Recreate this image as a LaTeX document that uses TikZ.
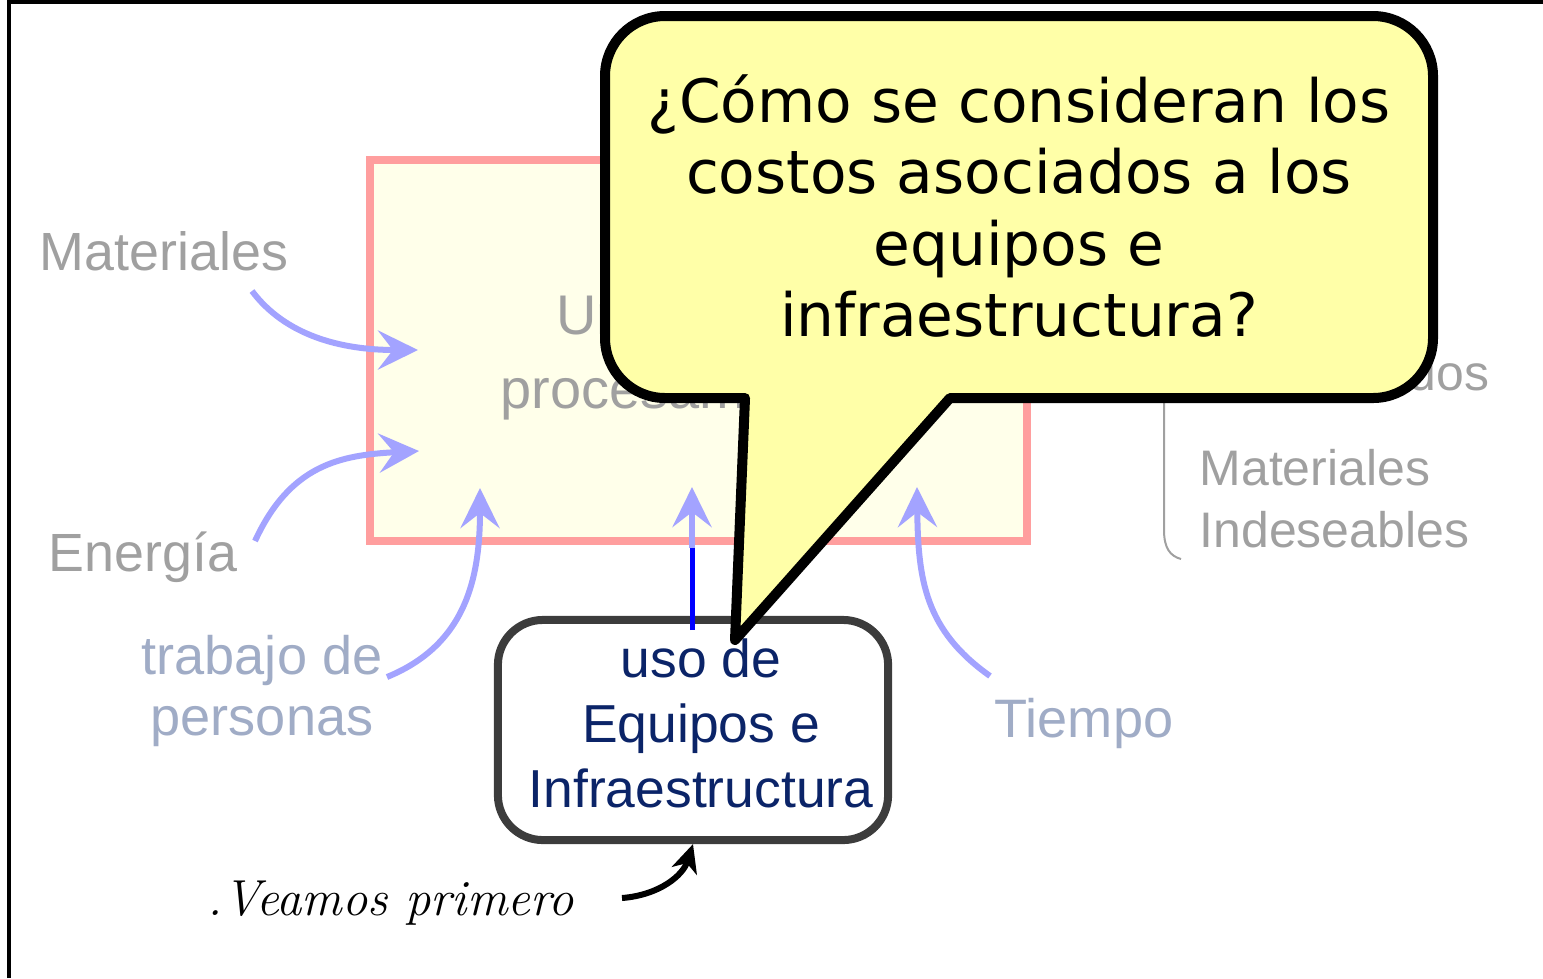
\documentclass[tikz,border=0pt]{standalone}
\usepackage{fontspec}
\newfontfamily\arialfont{Liberation Sans}
\newfontfamily\bubblefont{DejaVu Sans}
\usetikzlibrary{arrows.meta}

\definecolor{pinkline}{HTML}{FF9E9E}
\definecolor{boxfill}{HTML}{FFFFEA}
\definecolor{flowblue}{HTML}{A3A3FF}
\definecolor{labelgray}{HTML}{A0A0A0}
\definecolor{labelslate}{HTML}{A0ACC6}
\definecolor{navy}{HTML}{0B2468}
\definecolor{darkframe}{HTML}{3C3C3C}
\definecolor{bubblefill}{HTML}{FFFFA8}

\begin{document}
\begin{tikzpicture}[x=0.01cm, y=-0.01cm,
        flow/.style={draw=flowblue, line width=0.06cm, -{Stealth[length=0.4cm, width=0.39cm, inset=0.15cm]}},
        inlabel/.style={text=labelgray, inner sep=0pt, font=\arialfont\fontsize{15.3}{17.1}\selectfont},
        slatelabel/.style={text=labelslate, inner sep=0pt, align=center, font=\arialfont\fontsize{15.4}{17.1}\selectfont},
        outlabel/.style={text=labelgray, inner sep=0pt, align=left, font=\arialfont\fontsize{14.2}{17.6}\selectfont},
        callout/.style={draw=black, fill=bubblefill, line width=0.1cm, line join=round}]
            % Fix the size of the picture
            \useasboundingbox (0,0) rectangle (1543,978);

            % Draw the frame
            \draw[line width=0.04cm] (9,978) -- (9,2) -- (1543,2);

            % Draw the process unit
            \node[draw=pinkline, fill=boxfill, line width=0.08cm, minimum width=6.57cm, minimum height=3.81cm] (proc) at (698.5,350.5) {};
            \node[text=labelgray, inner sep=0pt, align=center, font=\arialfont\fontsize{15.9}{20.8}\selectfont] (proctext) at (684,357) {Unidad de\\procesamiento};

            % Draw the inputs
            \node[inlabel, anchor=base] (mat) at (164,270) {Materiales};
            \node[inlabel, anchor=base] (ener) at (143,571) {Energía};
            \node[slatelabel] (trab) at (262,691) {trabajo de\\personas};
            \node[slatelabel, anchor=base] (tiempo) at (1084,737) {Tiempo};

            \coordinate (matOut) at (252,291);
            \coordinate (matIn) at (418,350);
            \coordinate (enerOut) at (255,541);
            \coordinate (enerIn) at (419,451);
            \coordinate (trabOut) at (387,677);
            \coordinate (trabIn) at (480,488);
            \coordinate (tiempoOut) at (990,676);
            \coordinate (tiempoIn) at (917,487);
            \coordinate (eqIn) at (692,487);
            \coordinate (eqEdge) at (692,548);
            \coordinate (eqLow) at (692,630);

            \draw[flow] (matOut) .. controls (285,335) and (340,350) .. (matIn);
            \draw[flow] (enerOut) .. controls (290,465) and (340,455) .. (enerIn);
            \draw[flow] (trabOut) .. controls (465,645) and (480,580) .. (trabIn);
            \draw[flow] (tiempoOut) .. controls (925,630) and (918,580) .. (tiempoIn);
            \draw[flow] (eqEdge) -- (eqIn);

            % Draw the outputs
            \node[outlabel, anchor=base east] (deseados) at (1490,390) {Productos Elaborados};
            \node[outlabel, anchor=north west] (indeseables) at (1199,449) {Materiales\\Indeseables};
            \draw[labelgray, line width=0.02cm] (1164,300) -- (1164,530) .. controls (1164,548) and (1170,556) .. (1181,559);

            % Draw the equipment box
            \node[draw=darkframe, fill=white, line width=0.08cm, rounded corners=0.45cm, minimum width=3.9cm, minimum height=2.2cm] (equipos) at (693,730) {};
            \node[inner sep=0pt, text=navy, align=center, font=\arialfont\fontsize{15.2}{18.5}\selectfont] (equipostext) at (701,723) {uso de\\Equipos e\\Infraestructura};
            \draw[blue, line width=0.05cm] (eqLow) -- (eqEdge);

            % Draw the note below
            \node[inner sep=0pt, anchor=base, font=\itshape\fontsize{14.4}{17}\selectfont] (veamos) at (391,915) {.Veamos primero};
            \coordinate (veamosOut) at (622,898);
            \draw[line width=0.06cm, -{Stealth[length=0.28cm, width=0.26cm, inset=0.08cm]}] (veamosOut) .. controls (660,895) and (683,875) .. (equipos.south);

            % Draw the speech bubble
            \coordinate (tip) at (735,640);
            \draw[callout] (745,398) [rounded corners=0.6cm] -- (605,398) -- (605,16) -- (1433,16) -- (1433,398) [sharp corners] -- (950,398) -- (tip) -- cycle;
            \node[inner sep=0pt, align=center, font=\bubblefont\fontsize{17}{20.3}\selectfont] (pregunta) at (1019,206) {¿Cómo se consideran los\\costos asociados a los\\equipos e\\infraestructura?};
\end{tikzpicture}
\end{document}
